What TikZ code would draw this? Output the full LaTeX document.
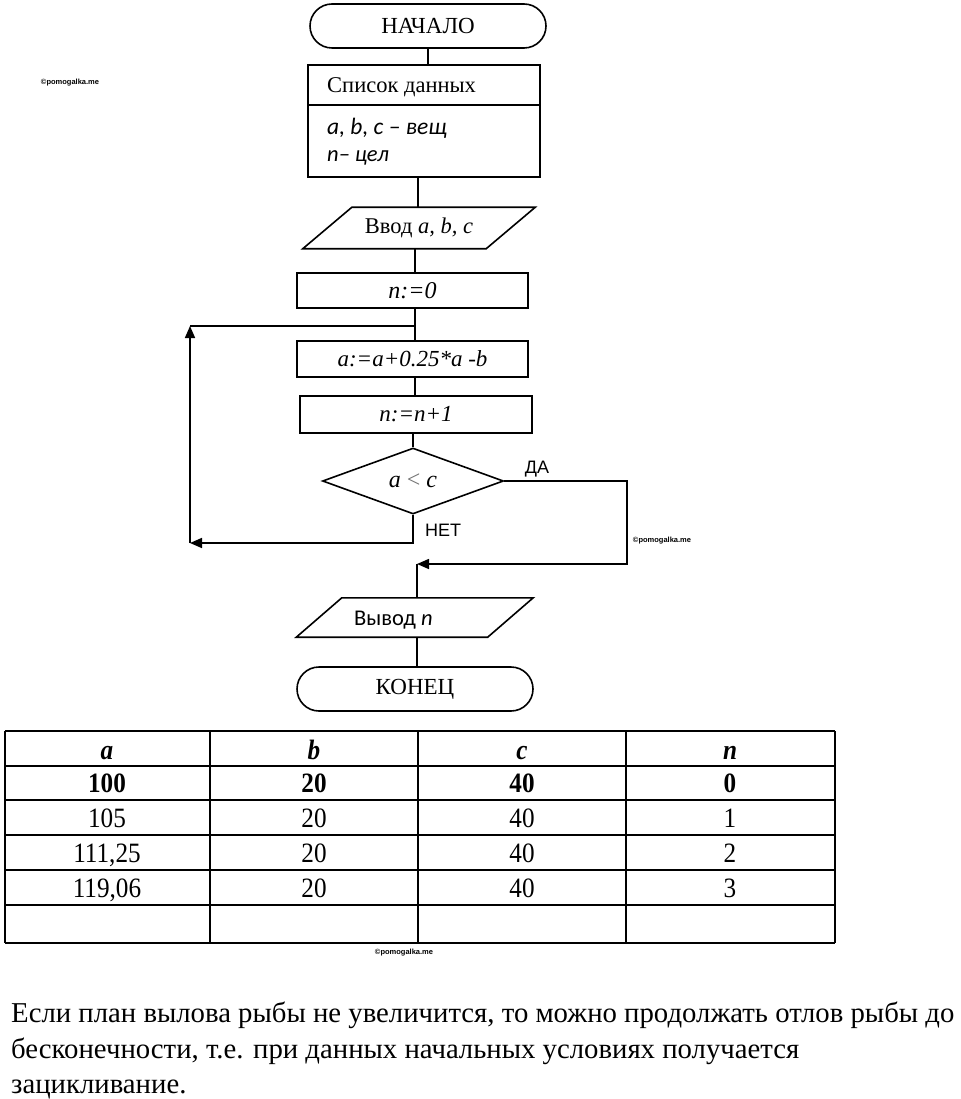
\documentclass[tikz,border=0pt]{standalone}
\usepackage{fontspec}
\setmainfont{Liberation Serif}
\newfontfamily\carl{Carlito}
\newfontfamily\ars{Liberation Sans}
\newfontfamily\cond[FakeStretch=0.9]{Liberation Serif}
\usetikzlibrary{shapes.geometric,arrows.meta}
\begin{document}
\begin{tikzpicture}[x=1pt,y=-1pt,
  ln/.style={line width=1.6pt},
  arr/.style={ln,-{Triangle[length=12pt,width=10pt]}},
  term/.style={ln,draw,rectangle,rounded corners=22pt,inner sep=0pt,font=\fontsize{23}{27}\selectfont},
  box/.style={ln,draw,rectangle,inner sep=0pt,font=\fontsize{23}{27}\selectfont\itshape},
  io/.style={rectangle,inner sep=0pt},
  wm/.style={font=\ars\bfseries\fontsize{7.5}{9}\selectfont},
  cell/.style={anchor=base,inner sep=0pt,font=\cond\fontsize{28}{32}\selectfont},
  para/.style={anchor=base west,inner sep=0pt,font=\fontsize{28.75}{34}\selectfont},
  tl/.style={line width=1.3pt}
]
\useasboundingbox (0,0) rectangle (960,1099);
\coordinate (ax) at (415,0);

% start
\node[term,minimum width=236pt,minimum height=44pt] (start) at (428,26) {НАЧАЛО};
% data list
\node[ln,draw,rectangle,minimum width=232pt,minimum height=112pt] (data) at (424,121) {};
\coordinate (dl) at (308,105);
\coordinate (dr) at (540,105);
\draw[ln] (dl) -- (dr);
\node[anchor=west,inner sep=0pt,font=\fontsize{22.5}{26}\selectfont] (t1) at (327,87) {Список данных};
\node[anchor=west,inner sep=0pt,font=\carl\itshape\fontsize{23.5}{27}\selectfont] (t2) at (327,128) {a, b, c – вещ};
\node[anchor=west,inner sep=0pt,font=\carl\itshape\fontsize{22.5}{26}\selectfont] (t3) at (327,158) {n– цел};
\draw[ln] (start.south) -- (start.south |- data.north);

% input
\node[io,minimum width=183pt,minimum height=41pt,font=\fontsize{22.5}{26}\selectfont] (in) at (419,228) {Ввод \textit{a, b, c}};
\draw[ln] ([xshift=24.5pt]in.north west) -- ([xshift=24.5pt]in.north east) -- ([xshift=-24.5pt]in.south east) -- ([xshift=-24.5pt]in.south west) -- cycle;
\draw[ln] (data.south -| 418,0) -- (in.north -| 418,0);

% n:=0
\node[box,minimum width=231pt,minimum height=35pt,font=\fontsize{24}{28}\selectfont\itshape] (n0) at (412.5,290.5) {n:=0};
\draw[ln] (in.south -| ax) -- (n0.north -| ax);
% update
\node[box,minimum width=231pt,minimum height=36pt] (upd) at (412.5,359) {a:=a+0.25*a -b};
\draw[ln] (n0.south -| ax) -- (upd.north -| ax);
% increment
\node[box,minimum width=232pt,minimum height=37pt] (inc) at (416,414.5) {n:=n+1};
\draw[ln] (upd.south -| ax) -- (inc.north -| ax);
% decision
\node[ln,draw,diamond,inner sep=0pt,minimum width=181pt,minimum height=66pt,font=\fontsize{24}{28}\selectfont\itshape] (dia) at (413,481) {a \textcolor{black!55}{\upshape<} c};
\draw[ln] (inc.south -| dia.north) -- (dia.north);

% loop back
\coordinate (jn) at (415,326);
\coordinate (lt) at (190,326);
\coordinate (lb) at (190,543);
\draw[arr] (dia.south) |- (lb);
\draw[arr] (lb) -- (lt);
\draw[ln] (lt) -- (jn);
\node[anchor=west,inner sep=0pt,font=\ars\fontsize{18}{20}\selectfont] (net) at (425,530) {НЕТ};

% yes branch
\coordinate (r2) at (627,564);
\coordinate (jo) at (417,564);
\draw[arr] (dia.east) -| (r2) -- (jo);
\node[inner sep=0pt,font=\ars\fontsize{18}{20}\selectfont] (da) at (537,469) {ДА};

% output
\node[io,minimum width=191pt,minimum height=39pt] (out) at (414.75,617.5) {};
\draw[ln] ([xshift=22.75pt]out.north west) -- ([xshift=22.75pt]out.north east) -- ([xshift=-22.75pt]out.south east) -- ([xshift=-22.75pt]out.south west) -- cycle;
\node[anchor=west,inner sep=0pt,font=\carl\fontsize{22.5}{26}\selectfont] (outt) at (354,620) {Вывод \textit{n}};
\draw[ln] (jo) -- (out.north -| jo);

% end
\node[term,minimum width=236pt,minimum height=44pt] (end) at (415,689) {КОНЕЦ};
\draw[ln] (out.south -| jo) -- (end.north -| jo);

% watermarks
\node[wm] (w1) at (70,83) {©pomogalka.me};
\node[wm] (w2) at (662,541) {©pomogalka.me};
\node[wm] (w3) at (404,953) {©pomogalka.me};

% table
\foreach \yy in {731,766,800,835,870,905,943} \draw[tl] (5,\yy) -- (835,\yy);
\foreach \xx in {5,210,418,626,835} \draw[tl] (\xx,731) -- (\xx,943);
\node[cell] (h1) at (107,759) {\textbf{\textit{a}}};
\node[cell] (h2) at (314,759) {\textbf{\textit{b}}};
\node[cell] (h3) at (522,759) {\textbf{\textit{c}}};
\node[cell] (h4) at (730,759) {\textbf{\textit{n}}};
\node[cell] (r11) at (107,792.5) {\textbf{100}};
\node[cell] (r12) at (314,792.5) {\textbf{20}};
\node[cell] (r13) at (522,792.5) {\textbf{40}};
\node[cell] (r14) at (730,792.5) {\textbf{0}};
\node[cell] (r21) at (107,827) {105};
\node[cell] (r22) at (314,827) {20};
\node[cell] (r23) at (522,827) {40};
\node[cell] (r24) at (730,827) {1};
\node[cell] (r31) at (107,862) {111,25};
\node[cell] (r32) at (314,862) {20};
\node[cell] (r33) at (522,862) {40};
\node[cell] (r34) at (730,862) {2};
\node[cell] (r41) at (107,897) {119,06};
\node[cell] (r42) at (314,897) {20};
\node[cell] (r43) at (522,897) {40};
\node[cell] (r44) at (730,897) {3};

% paragraph
\node[para] (p1) at (11,1022) {Если план вылова рыбы не увеличится, то можно продолжать отлов рыбы до};
\node[para] (p2) at (11,1058) {бесконечности, т.е. при данных начальных условиях получается};
\node[para] (p3) at (11,1093) {зацикливание.};
\end{tikzpicture}
\end{document}
